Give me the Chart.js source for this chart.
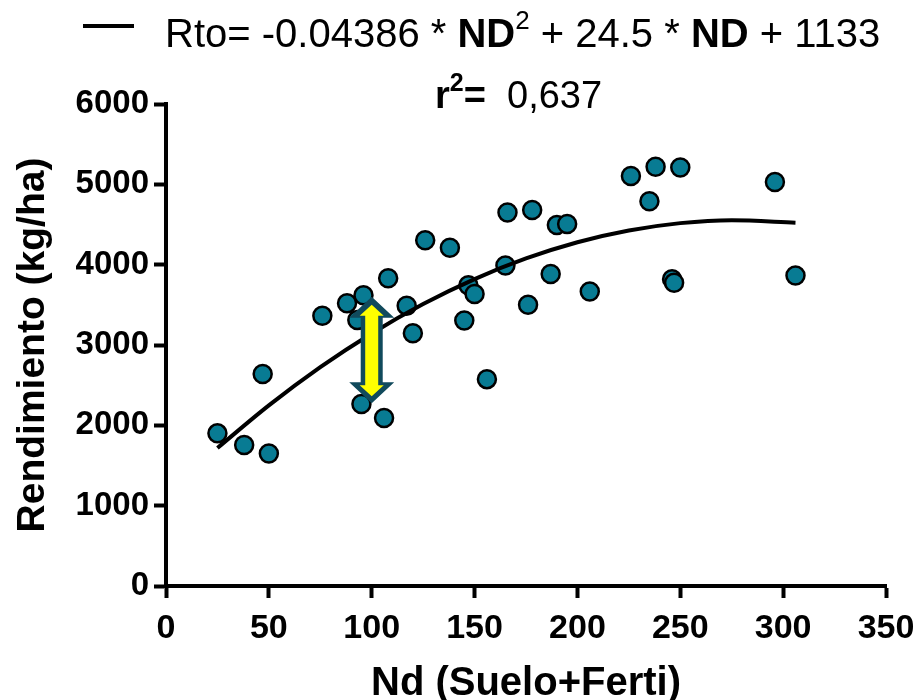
<!DOCTYPE html>
<html>
<head>
<meta charset="utf-8">
<script src="https://cdn.jsdelivr.net/npm/chart.js@4.4.1/dist/chart.umd.min.js"></script>
<style>body{margin:0;background:#fff}</style>
</head>
<body>
<canvas id="myChart" width="919" height="700"></canvas>
<script>
/* Rendimiento vs N disponible */

// puntos observados (Nd, rendimiento)
const ndValues = [25, 38, 50, 47, 76, 88, 96, 93, 95, 106, 108, 117, 120, 126, 138, 147, 150, 145, 156, 165, 166, 178, 176, 190, 195, 187, 206, 226, 238, 250, 235, 246, 247, 296, 306];
const rtoValues = [1900, 1755, 1650, 2640, 3365, 3520, 3620, 3310, 2265, 2090, 3830, 3490, 3145, 4305, 4210, 3745, 3635, 3305, 2575, 3990, 4650, 4680, 3500, 4495, 4505, 3885, 3665, 5105, 5220, 5210, 4790, 3820, 3775, 5030, 3865];

// curva de ajuste
const curveNd = [25, 50, 75, 100, 125, 150, 175, 200, 225, 250, 275, 306];
const curveRto = [1718, 2248, 2724, 3144, 3510, 3821, 4077, 4279, 4425, 4517, 4554, 4523];

const xTickValues = [0, 50, 100, 150, 200, 250, 300, 350];
const yTickValues = [0, 1000, 2000, 3000, 4000, 5000, 6000];

// flecha amarilla
const arrowNd = 100;
const arrowRto = [2275, 3600];

const eqLine = [
  {text: 'Rto= -0.04386 * '},
  {text: 'ND', bold: true},
  {text: '2', sup: true},
  {text: ' + 24.5 * '},
  {text: 'ND', bold: true},
  {text: ' + 1133'}
];
const r2Line = [
  {text: 'r', bold: true},
  {text: '2', bold: true, sup: true},
  {text: '=', bold: true},
  {text: '  0,637'}
];

Chart.defaults.font.family = '"Liberation Sans", Arial, sans-serif';
Chart.defaults.color = '#000';

function drawRich(ctx, segs, x, baseline, size) {
  let cx = x;
  segs.forEach(s => {
    const fs = s.sup ? Math.round(size * 0.66) : size;
    ctx.font = (s.bold ? 'bold ' : '') + fs + 'px "Liberation Sans", Arial';
    ctx.fillText(s.text, cx, s.sup ? baseline - size * 0.44 : baseline);
    cx += ctx.measureText(s.text).width;
  });
}

const decor = {
  id: 'decor',
  afterDatasetsDraw(chart) {
    const {ctx, scales: {x, y}} = chart;
    const ax = x.getPixelForValue(arrowNd);
    const yt = y.getPixelForValue(arrowRto[1]);
    const yb = y.getPixelForValue(arrowRto[0]);
    const arrow = (t, b, hw, hl, sw, color) => {
      ctx.beginPath();
      ctx.moveTo(ax, t);
      ctx.lineTo(ax + hw, t + hl);
      ctx.lineTo(ax + sw, t + hl);
      ctx.lineTo(ax + sw, b - hl);
      ctx.lineTo(ax + hw, b - hl);
      ctx.lineTo(ax, b);
      ctx.lineTo(ax - hw, b - hl);
      ctx.lineTo(ax - sw, b - hl);
      ctx.lineTo(ax - sw, t + hl);
      ctx.lineTo(ax - hw, t + hl);
      ctx.closePath();
      ctx.fillStyle = color;
      ctx.fill();
    };
    ctx.save();
    arrow(yt, yb, 22.5, 21, 11, '#114a5c');
    arrow(yt + 8, yb - 7, 12, 11, 6.5, '#ffff00');
    ctx.restore();
  },
  afterDraw(chart) {
    const ctx = chart.ctx;
    ctx.save();
    ctx.fillStyle = '#000';
    ctx.fillRect(83, 24, 51, 4);
    ctx.textBaseline = 'alphabetic';
    drawRich(ctx, eqLine, 165, 47, 40);
    drawRich(ctx, r2Line, 435, 108, 38);
    ctx.restore();
  }
};

const ctx = document.getElementById('myChart').getContext('2d');
const myChart = new Chart(ctx, {
  type: 'scatter',
  data: {
    datasets: [
      {
        label: 'ajuste',
        data: curveNd.map((v, i) => ({x: v, y: curveRto[i]})),
        showLine: true,
        borderColor: '#000',
        borderWidth: 4,
        pointRadius: 0,
        cubicInterpolationMode: 'monotone',
        order: 0,
        clip: false
      },
      {
        label: 'Rto',
        data: ndValues.map((v, i) => ({x: v, y: rtoValues[i]})),
        backgroundColor: '#087b93',
        borderColor: '#000',
        borderWidth: 2.5,
        pointRadius: 9,
        order: 1,
        clip: false
      }
    ]
  },
  options: {
    responsive: false,
    animation: false,
    layout: {padding: {left: 0, top: 104, right: 33, bottom: 0}},
    plugins: {legend: {display: false}, tooltip: {enabled: false}},
    scales: {
      x: {
        type: 'linear',
        min: 0,
        max: 350,
        afterFit: s => { s.height = 114; s.paddingLeft = 0; s.paddingRight = 0; },
        afterBuildTicks: s => { s.ticks = xTickValues.map(v => ({value: v})); },
        grid: {drawOnChartArea: false, tickLength: 12, tickWidth: 4, tickColor: '#000'},
        border: {display: true, width: 4, color: '#000'},
        ticks: {font: {size: 34, weight: 'bold'}, padding: 10, maxRotation: 0, color: '#000', callback: v => String(v)},
        title: {display: true, text: 'Nd (Suelo+Ferti)', font: {size: 40, weight: 'bold', lineHeight: 0.8}, padding: 0, color: '#000'}
      },
      y: {
        min: 0,
        max: 6000,
        afterFit: s => { s.width = 166; s.paddingTop = 0; s.paddingBottom = 0; },
        afterBuildTicks: s => { s.ticks = yTickValues.map(v => ({value: v})); },
        grid: {drawOnChartArea: false, tickLength: 12, tickWidth: 4, tickColor: '#000'},
        border: {display: true, width: 4, color: '#000'},
        ticks: {font: {size: 33, weight: 'bold'}, padding: 5, color: '#000', callback: v => String(v)},
        title: {display: true, text: 'Rendimiento (kg/ha)', font: {size: 39, weight: 'bold'}, padding: {top: 10, bottom: 0}, color: '#000'}
      }
    }
  },
  plugins: [decor]
});
</script>
</body>
</html>
